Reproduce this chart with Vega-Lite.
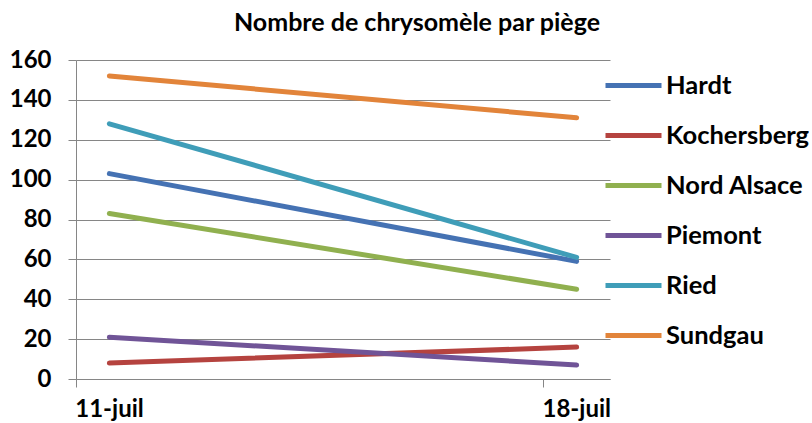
{
  "$schema": "https://vega.github.io/schema/vega-lite/v6.json",
  "width": 534,
  "height": 319,
  "autosize": {"type": "none"},
  "padding": {"left": 76, "top": 60, "right": 202, "bottom": 44},
  "background": "white",
  "title": {
    "text": "Nombre de chrysomèle par piège",
    "font": "Lato",
    "fontWeight": "bold",
    "fontSize": 25,
    "color": "#000000",
    "anchor": "middle",
    "dx": 74,
    "offset": -8,
    "baseline": "alphabetic"
  },
  "data": {
    "values": [
      {"site": "Hardt", "date": "11-juil", "jour": 11, "nombre": 103},
      {"site": "Hardt", "date": "18-juil", "jour": 18, "nombre": 59},
      {"site": "Kochersberg", "date": "11-juil", "jour": 11, "nombre": 8},
      {"site": "Kochersberg", "date": "18-juil", "jour": 18, "nombre": 16},
      {"site": "Nord Alsace", "date": "11-juil", "jour": 11, "nombre": 83},
      {"site": "Nord Alsace", "date": "18-juil", "jour": 18, "nombre": 45},
      {"site": "Piemont", "date": "11-juil", "jour": 11, "nombre": 21},
      {"site": "Piemont", "date": "18-juil", "jour": 18, "nombre": 7},
      {"site": "Ried", "date": "11-juil", "jour": 11, "nombre": 128},
      {"site": "Ried", "date": "18-juil", "jour": 18, "nombre": 61},
      {"site": "Sundgau", "date": "11-juil", "jour": 11, "nombre": 152},
      {"site": "Sundgau", "date": "18-juil", "jour": 18, "nombre": 131}
    ]
  },
  "mark": {"type": "line", "strokeWidth": 5, "strokeCap": "round"},
  "encoding": {
    "x": {
      "field": "jour",
      "type": "quantitative",
      "scale": {"domain": [10.5, 18.5], "nice": false, "zero": false},
      "axis": {
        "title": null,
        "values": [10.5, 17.5],
        "labelExpr": "datum.value == 10.5 ? '11-juil' : '18-juil'",
        "labelOffset": 33,
        "labelFlush": false,
        "labelOverlap": false,
        "grid": false,
        "domainColor": "#868686",
        "tickColor": "#868686",
        "tickSize": 8,
        "labelPadding": 10,
        "labelFont": "Lato",
        "labelFontWeight": "bold",
        "labelFontSize": 24,
        "labelColor": "#000000"
      }
    },
    "y": {
      "field": "nombre",
      "type": "quantitative",
      "scale": {"domain": [0, 160], "nice": false},
      "axis": {
        "title": null,
        "values": [0, 20, 40, 60, 80, 100, 120, 140, 160],
        "grid": true,
        "gridColor": "#868686",
        "gridWidth": 1,
        "domainColor": "#868686",
        "tickColor": "#868686",
        "tickSize": 8,
        "labelPadding": 17,
        "labelFont": "Lato",
        "labelFontWeight": "bold",
        "labelFontSize": 24,
        "labelColor": "#000000"
      }
    },
    "color": {
      "field": "site",
      "type": "nominal",
      "scale": {
        "domain": ["Hardt", "Kochersberg", "Nord Alsace", "Piemont", "Ried", "Sundgau"],
        "range": ["#4572B3", "#B5433F", "#90B04F", "#705497", "#3F9DB8", "#E2843A"]
      },
      "legend": {
        "title": null,
        "orient": "none",
        "legendX": 527,
        "legendY": -5,
        "symbolType": "stroke",
        "symbolSize": 3136,
        "symbolStrokeWidth": 5,
        "symbolOffset": 0,
        "labelOffset": 2,
        "rowPadding": 6,
        "labelFont": "Lato",
        "labelFontWeight": "bold",
        "labelFontSize": 25.5,
        "labelColor": "#000000"
      }
    }
  },
  "config": {"view": {"stroke": null}}
}
